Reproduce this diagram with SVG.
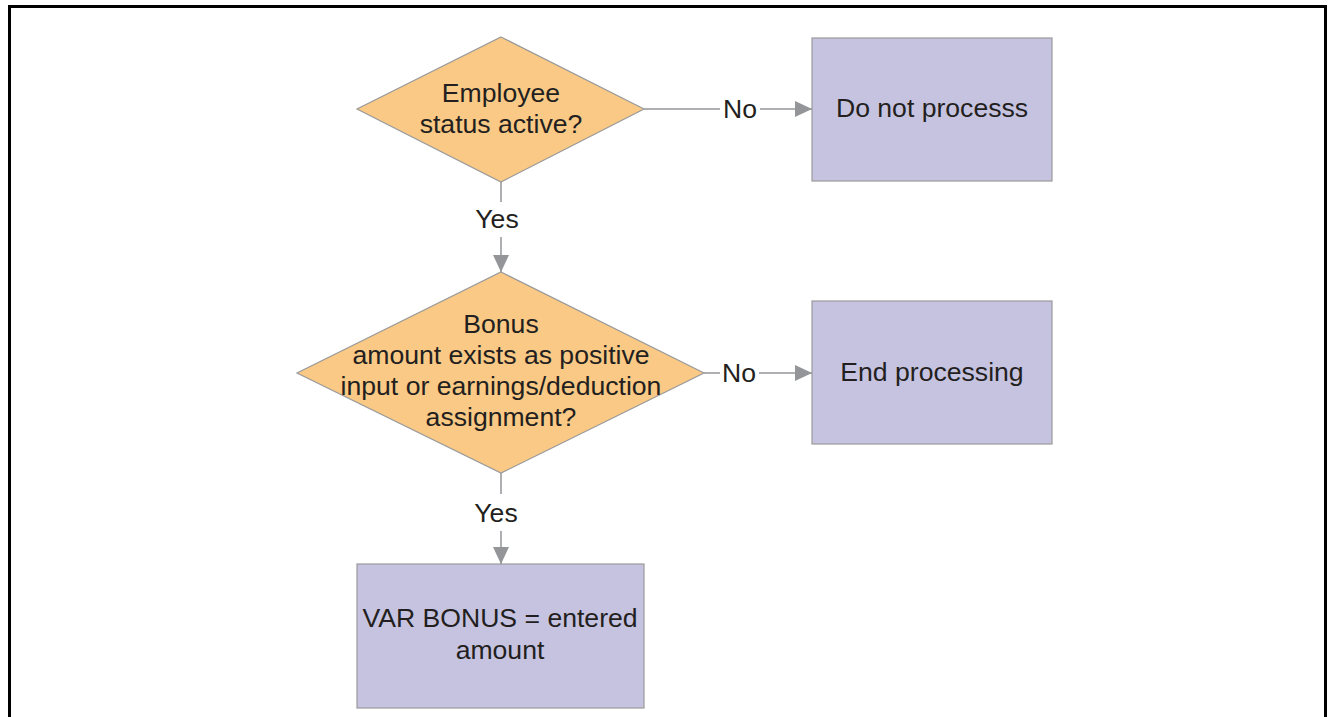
<svg xmlns="http://www.w3.org/2000/svg" width="1328" height="717" viewBox="0 0 1328 717">
  <style>
    .frame { fill: none; stroke: #000; stroke-width: 3; }
    .decision { fill: #f9c985; stroke: #9a9a9a; stroke-width: 1.2; }
    .process { fill: #c6c3e1; stroke: #9a9a9a; stroke-width: 1.2; }
    .label { font-family: "Liberation Sans", Arial, sans-serif; font-size: 26.6px; fill: #231f20; text-anchor: middle; }
    .edge { fill: none; stroke: #939598; stroke-width: 1.5; }
  </style>
  <defs>
    <marker id="arrow" markerWidth="17" markerHeight="16" refX="17" refY="8" orient="auto" markerUnits="userSpaceOnUse">
      <path d="M0,0 L17,8 L0,16 Z" fill="#939598"/>
    </marker>
  </defs>

  <rect width="1328" height="717" fill="#fff"/>
  <!-- open frame: top, left and right edges -->
  <path class="frame" d="M9.5,717 V6.5 H1325.5 V717"/>

  <g id="connectors">
    <!-- decision 1: No -->
    <path class="edge" d="M644,109 H720"/>
    <text class="label" x="740" y="118">No</text>
    <path class="edge" d="M760,109 H812" marker-end="url(#arrow)"/>
    <!-- decision 1: Yes -->
    <path class="edge" d="M501,182 V202"/>
    <text class="label" x="497" y="228">Yes</text>
    <path class="edge" d="M501,237 V272" marker-end="url(#arrow)"/>
    <!-- decision 2: No -->
    <path class="edge" d="M704,373 H720"/>
    <text class="label" x="739" y="382">No</text>
    <path class="edge" d="M759,373 H812" marker-end="url(#arrow)"/>
    <!-- decision 2: Yes -->
    <path class="edge" d="M501,473 V494"/>
    <text class="label" x="496" y="522">Yes</text>
    <path class="edge" d="M501,531 V564" marker-end="url(#arrow)"/>
  </g>

  <g id="employee-active">
    <polygon class="decision" points="501,37 644,109 501,182 357,109"/>
    <text class="label" x="501" y="102">Employee</text>
    <text class="label" x="501" y="133">status active?</text>
  </g>

  <g id="do-not-process">
    <rect class="process" x="812" y="38" width="240" height="143"/>
    <text class="label" x="932" y="117">Do not processs</text>
  </g>

  <g id="bonus-exists">
    <polygon class="decision" points="501,272 704,373 501,473 297,373"/>
    <text class="label" x="501" y="333">Bonus</text>
    <text class="label" x="501" y="364">amount exists as positive</text>
    <text class="label" x="501" y="395">input or earnings/deduction</text>
    <text class="label" x="501" y="426">assignment?</text>
  </g>

  <g id="end-processing">
    <rect class="process" x="812" y="301" width="240" height="143"/>
    <text class="label" x="932" y="381">End processing</text>
  </g>

  <g id="var-bonus">
    <rect class="process" x="357" y="564" width="287" height="144"/>
    <text class="label" x="500" y="627">VAR BONUS = entered</text>
    <text class="label" x="500" y="659">amount</text>
  </g>
</svg>
